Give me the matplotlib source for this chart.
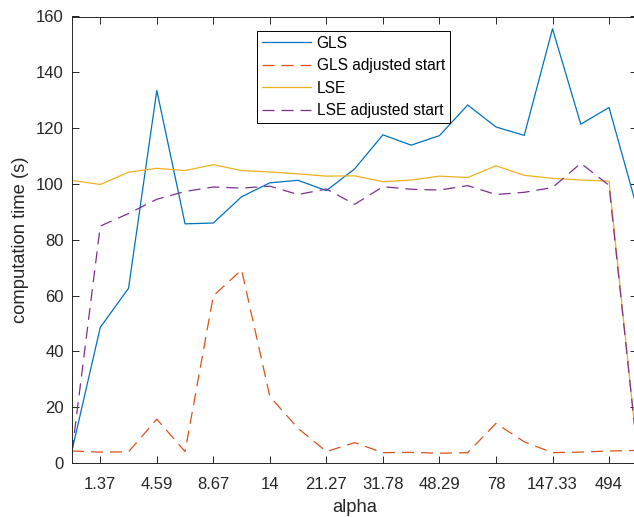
import matplotlib
matplotlib.use('Agg')
import matplotlib.pyplot as plt
import numpy as np

# Tiempos de computo por valor de alpha (indices 1..21)
idx = np.arange(1, 22)
gls = [4.5, 48.6, 62.6, 133.5, 85.7, 86.0, 95.4, 100.4, 101.3, 97.6, 105.4,
       117.6, 113.9, 117.3, 128.3, 120.4, 117.4, 155.6, 121.4, 127.4, 91.0]
gls_adj = [4.3, 3.9, 4.0, 15.7, 4.1, 59.9, 69.2, 23.8, 12.4, 4.1, 7.3,
           3.7, 3.8, 3.5, 3.7, 14.2, 7.6, 3.7, 3.9, 4.3, 4.5]
lse = [101.3, 99.8, 104.2, 105.6, 104.8, 106.9, 104.8, 104.3, 103.6, 102.8, 102.9,
       100.8, 101.4, 102.8, 102.3, 106.5, 103.1, 102.0, 101.4, 101.0, 4.0]
lse_adj = [4.0, 84.9, 89.4, 94.5, 97.3, 98.9, 98.5, 99.2, 96.2, 98.2, 92.7,
           99.0, 98.1, 97.8, 99.4, 96.2, 97.0, 98.7, 107.4, 99.5, 4.0]

tick_pos = [2, 4, 6, 8, 10, 12, 14, 16, 18, 20]
tick_lab = ['1.37', '4.59', '8.67', '14', '21.27', '31.78', '48.29', '78', '147.33', '494']

gris = '#262626'
plt.rcParams['font.family'] = ['Liberation Sans', 'DejaVu Sans']

fig = plt.figure(figsize=(6.34, 5.17), dpi=100)
ax = fig.add_axes([72/634, 54/517, 565.3/634, 446.5/517])

ax.plot(idx, gls, color='#0072BD', lw=0.9, label='GLS')
ax.plot(idx, gls_adj, color='#D95319', lw=0.9, dashes=(9.6, 5.6), label='GLS adjusted start')
ax.plot(idx, lse, color='#EDB120', lw=0.9, label='LSE')
ax.plot(idx, lse_adj, color='#7E2F8E', lw=0.9, dashes=(9.6, 5.6), label='LSE adjusted start')

ax.set_xlim(1, 21)
ax.set_ylim(0, 160)
ax.set_xticks(tick_pos)
ax.set_xticklabels(tick_lab)
ax.set_yticks(np.arange(0, 161, 20))

ax.tick_params(direction='in', length=4.8, width=0.7, colors=gris, labelsize=12,
               top=True, right=True)
ax.tick_params(axis='x', pad=10)
ax.tick_params(axis='y', pad=6)
for s in ax.spines.values():
    s.set_color(gris)
    s.set_linewidth(0.7)

ax.set_xlabel('alpha', fontsize=13.2, color=gris, labelpad=5)
ax.set_ylabel('computation time (s)', fontsize=13.2, color=gris, labelpad=5)

leg = ax.legend(loc='upper left', bbox_to_anchor=(0.327, 0.9675), borderaxespad=0,
                fontsize=11.2, handlelength=3.2, labelspacing=0.48, fancybox=False,
                framealpha=1, edgecolor='black', borderpad=0.3, handletextpad=0.35)
leg.get_frame().set_linewidth(0.7)

fig.savefig('out.png', dpi=100)
